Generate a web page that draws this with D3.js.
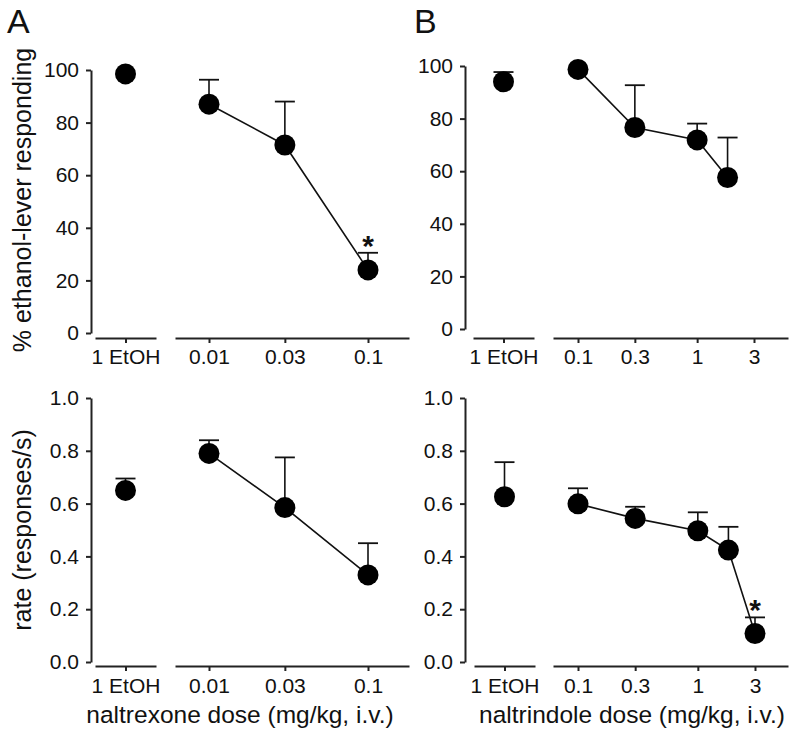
<!DOCTYPE html>
<html>
<head>
<meta charset="utf-8">
<script src="https://cdn.jsdelivr.net/npm/d3@7"></script>
<style>
  html, body { margin: 0; padding: 0; background: #fff; }
  svg { display: block; }
  text { font-family: "Liberation Sans", Arial, Helvetica, sans-serif; fill: #111; }
</style>
</head>
<body>
<svg id="chart" width="800" height="737"></svg>
<script>
// ---------- data ----------
const etohLabel = ["1 EtOH"];
const pctTicks = [0, 20, 40, 60, 80, 100];
const rateTicks = [0, 0.2, 0.4, 0.6, 0.8, 1.0];

const naltrexoneTickDoses = [0.01, 0.03, 0.1];
const naltrexoneTickLabels = ["0.01", "0.03", "0.1"];
const naltrexoneDoses = [0.01, 0.03, 0.1];

const naltrindoleTickDoses = [0.1, 0.3, 1, 3];
const naltrindoleTickLabels = ["0.1", "0.3", "1", "3"];
const naltrindoleDosesPct = [0.1, 0.3, 1, 1.8];
const naltrindoleDosesRate = [0.1, 0.3, 1, 1.8, 3];

// A top: % ethanol-lever responding (naltrexone)
const aPctEtoh = 98.5, aPctEtohSem = 0;
const aPctMean = [87, 71.5, 24];
const aPctSem = [9.3, 16.5, 6.5];
const aPctSig = [false, false, true];

// A bottom: rate (naltrexone)
const aRateEtoh = 0.65, aRateEtohSem = 0.045;
const aRateMean = [0.79, 0.585, 0.33];
const aRateSem = [0.05, 0.19, 0.12];
const aRateSig = [false, false, false];

// B top: % ethanol-lever responding (naltrindole)
const bPctEtoh = 94, bPctEtohSem = 3.7;
const bPctMean = [98.7, 76.6, 71.9, 57.6];
const bPctSem = [0, 16.1, 6.2, 15.2];
const bPctSig = [false, false, false, false];

// B bottom: rate (naltrindole)
const bRateEtoh = 0.626, bRateEtohSem = 0.131;
const bRateMean = [0.599, 0.544, 0.497, 0.424, 0.108];
const bRateSem = [0.059, 0.044, 0.07, 0.088, 0.061];
const bRateSig = [false, false, false, false, true];

// ---------- drawing ----------
const svg = d3.select("#chart");
const axisColor = "#222";
const R = 10.5, CAP = 10;

function panel(cfg) {
  const g = svg.append("g");
  const y = d3.scaleLinear().domain(cfg.yDomain).range(cfg.yRange);
  const xE = d3.scalePoint().domain(etohLabel).range(cfg.etohRange).padding(0.5);
  const xD = d3.scaleLog().domain(cfg.doseAnchor).range(cfg.doseAnchorPx);
  xD.domain([xD.invert(cfg.doseRange[0]), xD.invert(cfg.doseRange[1])]).range(cfg.doseRange);

  const ya = g.append("g").attr("transform", `translate(${cfg.yAxisX},0)`)
    .call(d3.axisLeft(y).tickValues(cfg.yTicks).tickFormat(cfg.yFormat)
      .tickSize(5).tickSizeOuter(0).tickPadding(7));
  const xa1 = g.append("g").attr("transform", `translate(0,${cfg.xAxisY})`)
    .call(d3.axisBottom(xE).tickSize(5).tickSizeOuter(0).tickPadding(cfg.xPad));
  const xa2 = g.append("g").attr("transform", `translate(0,${cfg.xAxisY})`)
    .call(d3.axisBottom(xD).tickValues(cfg.tickDoses)
      .tickFormat((d, i) => cfg.tickLabels[i]).tickSize(5).tickSizeOuter(0).tickPadding(cfg.xPad));
  [ya, xa1, xa2].forEach(a => {
    a.select(".domain").attr("stroke", axisColor).attr("stroke-width", 2);
    a.selectAll(".tick line").attr("stroke", axisColor).attr("stroke-width", 2);
    a.selectAll(".tick text").style("font-size", "21px")
      .style("font-family", '"Liberation Sans", Arial, sans-serif').attr("fill", "#111");
  });

  const pts = cfg.doses.map((d, i) => ({ x: xD(d), m: cfg.mean[i], s: cfg.sem[i], sig: cfg.sig[i] }));
  g.append("path").datum(pts)
    .attr("d", d3.line().x(d => d.x).y(d => y(d.m)))
    .attr("fill", "none").attr("stroke", "#111").attr("stroke-width", 1.6);

  const all = [{ x: xE(etohLabel[0]), m: cfg.etoh, s: cfg.etohSem, sig: false }].concat(pts);
  all.filter(d => d.s > 0).forEach(d => {
    g.append("line").attr("x1", d.x).attr("x2", d.x).attr("y1", y(d.m)).attr("y2", y(d.m + d.s))
      .attr("stroke", "#111").attr("stroke-width", 1.6);
    g.append("line").attr("x1", d.x - CAP).attr("x2", d.x + CAP).attr("y1", y(d.m + d.s)).attr("y2", y(d.m + d.s))
      .attr("stroke", "#111").attr("stroke-width", 1.8);
  });
  g.selectAll("circle.pt").data(all).join("circle").attr("class", "pt")
    .attr("cx", d => d.x).attr("cy", d => y(d.m)).attr("r", R).attr("fill", "#000");
  all.filter(d => d.sig).forEach(d => {
    g.append("text").attr("x", d.x).attr("y", y(d.m + d.s) + 3)
      .attr("text-anchor", "middle").style("font-size", "30px").style("font-weight", "bold").text("*");
  });
}

panel({ yDomain: [0, 100], yRange: [333, 70], yTicks: pctTicks, yFormat: d3.format("d"), yAxisX: 91, xAxisY: 338, xPad: 6,
  etohRange: [95, 156], doseAnchor: [0.01, 0.1], doseAnchorPx: [209, 368], doseRange: [175, 409],
  tickDoses: naltrexoneTickDoses, tickLabels: naltrexoneTickLabels, doses: naltrexoneDoses,
  etoh: aPctEtoh, etohSem: aPctEtohSem, mean: aPctMean, sem: aPctSem, sig: aPctSig });
panel({ yDomain: [0, 1], yRange: [662, 398], yTicks: rateTicks, yFormat: d3.format(".1f"), yAxisX: 91, xAxisY: 666, xPad: 7,
  etohRange: [95, 156], doseAnchor: [0.01, 0.1], doseAnchorPx: [209, 368], doseRange: [175, 409],
  tickDoses: naltrexoneTickDoses, tickLabels: naltrexoneTickLabels, doses: naltrexoneDoses,
  etoh: aRateEtoh, etohSem: aRateEtohSem, mean: aRateMean, sem: aRateSem, sig: aRateSig });
panel({ yDomain: [0, 100], yRange: [329, 66], yTicks: pctTicks, yFormat: d3.format("d"), yAxisX: 465, xAxisY: 338, xPad: 6,
  etohRange: [473, 534], doseAnchor: [0.1, 3], doseAnchorPx: [578, 754], doseRange: [553, 788],
  tickDoses: naltrindoleTickDoses, tickLabels: naltrindoleTickLabels, doses: naltrindoleDosesPct,
  etoh: bPctEtoh, etohSem: bPctEtohSem, mean: bPctMean, sem: bPctSem, sig: bPctSig });
panel({ yDomain: [0, 1], yRange: [662, 398], yTicks: rateTicks, yFormat: d3.format(".1f"), yAxisX: 465, xAxisY: 666, xPad: 7,
  etohRange: [474, 535], doseAnchor: [0.1, 3], doseAnchorPx: [578, 755], doseRange: [553, 788],
  tickDoses: naltrindoleTickDoses, tickLabels: naltrindoleTickLabels, doses: naltrindoleDosesRate,
  etoh: bRateEtoh, etohSem: bRateEtohSem, mean: bRateMean, sem: bRateSem, sig: bRateSig });

svg.append("text").attr("x", 7).attr("y", 33).style("font-size", "34px").text("A");
svg.append("text").attr("x", 414).attr("y", 33).style("font-size", "34px").text("B");

svg.append("text").attr("transform", "translate(31,200) rotate(-90)").attr("text-anchor", "middle")
  .style("font-size", "25px").text("% ethanol-lever responding");
svg.append("text").attr("transform", "translate(31,530) rotate(-90)").attr("text-anchor", "middle")
  .style("font-size", "25px").text("rate (responses/s)");

svg.append("text").attr("x", 240).attr("y", 723).attr("text-anchor", "middle")
  .style("font-size", "24.5px").text("naltrexone dose (mg/kg, i.v.)");
svg.append("text").attr("x", 632).attr("y", 723).attr("text-anchor", "middle")
  .style("font-size", "24.5px").text("naltrindole dose (mg/kg, i.v.)");
</script>
</body>
</html>
